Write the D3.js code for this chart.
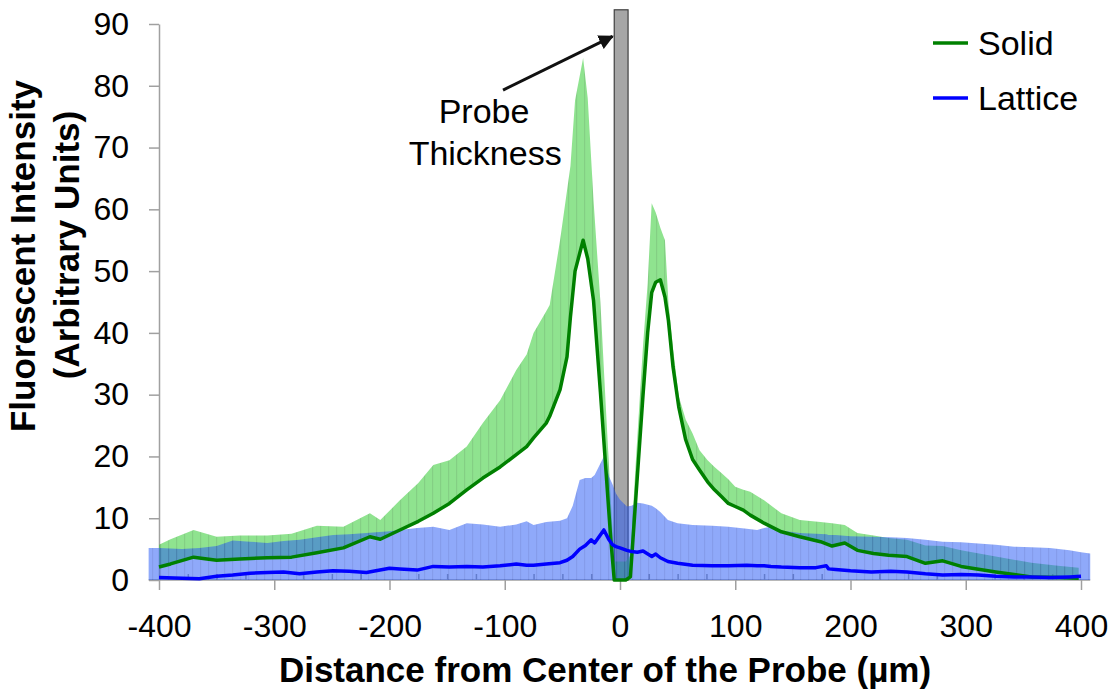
<!DOCTYPE html>
<html>
<head>
<meta charset="utf-8">
<script src="https://cdn.jsdelivr.net/npm/d3@7"></script>
<style>
  body { margin: 0; background: #fff; }
  text { font-family: Arial, "Liberation Sans", sans-serif; }
</style>
</head>
<body>
<svg width="1110" height="694"></svg>
<script>
// Solid probe: mean and mean + SD (upper error)
const solidX = [-400, -390, -370, -350, -330, -306, -285, -263, -240, -217, -208, -191, -175, -162, -148, -133, -119, -104, -90, -81, -75, -64, -61, -52, -46, -43, -39, -32, -28, -23, -17, -12, -8, -5, 0, 5, 9, 14, 20, 24, 27.5, 31, 35, 39, 42, 46, 51, 57, 63, 69, 76, 82, 88, 94, 100, 107, 113, 125, 140, 156, 174, 184, 195, 206, 220, 233, 249, 265, 280, 296, 326, 357, 380, 398];
const solidMean = [2.1, 2.6, 3.7, 3.2, 3.4, 3.6, 3.7, 4.4, 5.2, 7.0, 6.6, 8.1, 9.5, 10.8, 12.4, 14.6, 16.5, 18.3, 20.3, 21.6, 23, 25.4, 26.5, 30.8, 36.1, 42.6, 50, 55, 52, 45.3, 30.4, 17.2, 6.6, 0, 0, 0, 0.5, 14, 30, 40, 46.5, 48.2, 48.6, 45.8, 42, 34.5, 28, 22.7, 19.5, 17.8, 15.9, 14.6, 13.5, 12.4, 11.9, 11.3, 10.5, 9.2, 7.8, 7.0, 6.2, 5.5, 6.0, 4.8, 4.3, 4.0, 3.8, 2.7, 3.1, 2.2, 1.3, 0.5, 0.4, 0.3];
const solidUpper = [5.7, 6.6, 8.1, 7.0, 7.2, 7.2, 7.5, 8.8, 8.6, 10.8, 9.7, 12.9, 15.7, 18.6, 19.4, 21.6, 25.4, 29.1, 34, 36.5, 40, 43.5, 44.5, 55, 63, 67, 77.6, 84.5, 78, 61.5, 45, 27, 13, 3, 3, 3, 4, 20, 38, 48, 61, 59.5, 57, 55, 45, 37.5, 29.7, 26, 23.7, 21, 19.4, 18.3, 17.3, 16.3, 15.1, 14.6, 14.3, 12.9, 10.8, 9.7, 9.4, 9.2, 8.9, 7.6, 7.2, 6.8, 6.5, 5.6, 5.5, 4.8, 3.8, 2.8, 2.3, 2];

// Lattice probe: mean and mean + SD (lower error clipped at 0)
const latticeX = [-409, -400, -380, -365, -350, -336, -321, -306, -292, -278, -263, -249, -235, -220, -200, -191, -176, -162, -148, -133, -119, -104, -90, -81, -75, -64, -52, -46, -41, -35, -30, -25, -22, -14, -9.5, -6.5, -3.5, 0, 6, 10, 15, 20, 27.6, 31, 35, 41.6, 50, 63, 80, 94, 110, 119, 125, 131, 140, 156, 170, 179, 181, 187, 200, 218, 235, 249, 265, 280, 296, 311, 326, 342, 357, 373, 390, 400, 408];
const latticeMean = [0.4, 0.4, 0.3, 0.2, 0.6, 0.8, 1.1, 1.2, 1.3, 1.0, 1.3, 1.5, 1.4, 1.2, 1.9, 1.8, 1.6, 2.2, 2.1, 2.2, 2.1, 2.3, 2.6, 2.4, 2.4, 2.6, 2.8, 3.2, 3.8, 5.0, 5.6, 6.5, 6.0, 8.1, 6.5, 5.7, 5.4, 5.2, 4.8, 4.6, 4.5, 4.7, 3.8, 4.2, 3.6, 3.0, 2.7, 2.4, 2.3, 2.3, 2.4, 2.3, 2.3, 2.2, 2.1, 2.0, 2.0, 2.3, 1.8, 1.7, 1.5, 1.3, 1.4, 1.3, 1.0, 0.8, 0.9, 0.8, 0.6, 0.5, 0.5, 0.4, 0.5, 0.6, 0.6];
const latticeUpper = [5.2, 5.2, 5.0, 5.2, 5.5, 6.4, 6.2, 6.0, 6.3, 6.5, 6.9, 7.3, 7.4, 7.6, 7.9, 8.1, 8.4, 8.6, 8.1, 9.2, 9.0, 8.6, 9.0, 9.5, 8.9, 9.4, 9.6, 10, 12, 16.2, 16.5, 16.5, 17, 20, 16.7, 15.5, 14, 13, 11.9, 12, 12.5, 12.4, 12, 11.6, 11, 9.7, 9.2, 8.9, 8.8, 8.6, 8.3, 8.1, 8.4, 8.6, 8.0, 7.6, 7.5, 7.4, 7.3, 7.3, 7.1, 7.0, 6.9, 6.8, 6.5, 6.2, 6.1, 5.9, 5.7, 5.4, 5.3, 5.2, 4.8, 4.5, 4.3];

const xTicks = [-400, -300, -200, -100, 0, 100, 200, 300, 400];
const yTicks = [0, 10, 20, 30, 40, 50, 60, 70, 80, 90];
const probeEdges = [-5, 7];
const probeTop = 92.3;

const svg = d3.select('svg');

const x = d3.scaleLinear().domain([-400, 400]).range([159, 1081]);
const y = d3.scaleLinear().domain([0, 90]).range([580, 24]);

const defs = svg.append('defs');
function stripes(id, base, line) {
    const p = defs.append('pattern')
        .attr('id', id)
        .attr('patternUnits', 'userSpaceOnUse')
        .attr('width', 8)
        .attr('height', 10);
    p.append('rect').attr('width', 8).attr('height', 10).attr('fill', base);
    p.append('rect').attr('width', 1.2).attr('height', 10).attr('fill', line);
}
stripes('greenStripes', '#33cc33', '#1fa81f');
stripes('blueStripes', '#285af5', '#1440d8');

// axes
const fmt = d => String(d);   // plain hyphen for negatives, like the original

const gx = svg.append('g')
    .attr('transform', `translate(0, ${y(0)})`)
    .call(d3.axisBottom(x).tickValues(xTicks).tickFormat(fmt).tickSize(10).tickPadding(24).tickSizeOuter(0));
gx.select('.domain').attr('d', `M${x(-409)},0H${x(408)}`);

const minor = d3.range(-375, 400, 25).filter(d => d % 100 !== 0);
svg.append('g')
    .attr('transform', `translate(0, ${y(0)})`)
    .call(d3.axisBottom(x).tickValues(minor).tickSize(-6).tickFormat(''))
    .call(g => g.select('.domain').remove());

svg.append('g')
    .attr('transform', `translate(${x(-400)}, 0)`)
    .call(d3.axisLeft(y).tickValues(yTicks).tickFormat(fmt).tickSize(10).tickPadding(20).tickSizeOuter(0));

svg.selectAll('.domain, .tick line').attr('stroke', '#a0a0a0').attr('stroke-width', 1.5);
svg.selectAll('.tick text').attr('font-size', 32).attr('fill', '#000')
    .attr('font-family', 'Arial, "Liberation Sans", sans-serif');

// probe
svg.append('rect')
    .attr('x', x(probeEdges[0]))
    .attr('y', y(probeTop))
    .attr('width', x(probeEdges[1]) - x(probeEdges[0]))
    .attr('height', y(0) - y(probeTop))
    .attr('fill', '#a6a6a6')
    .attr('stroke', '#404040')
    .attr('stroke-width', 1.2);

const solid = solidX.map((d, i) => ({x: d, m: solidMean[i], u: solidUpper[i]}));
const lattice = latticeX.map((d, i) => ({x: d, m: latticeMean[i], u: latticeUpper[i]}));

svg.append('path')
    .datum(solid)
    .attr('d', d3.area().x(d => x(d.x)).y0(d => y(d.m)).y1(d => y(d.u)))
    .attr('fill', 'url(#greenStripes)')
    .attr('opacity', 0.55);

svg.append('path')
    .datum(lattice)
    .attr('d', d3.area().x(d => x(d.x)).y0(y(0)).y1(d => y(d.u)))
    .attr('fill', 'url(#blueStripes)')
    .attr('opacity', 0.52);

const line = d3.line().x(d => x(d.x)).y(d => y(d.m));

svg.append('path')
    .datum(solid)
    .attr('d', line)
    .attr('fill', 'none')
    .attr('stroke', '#008000')
    .attr('stroke-width', 3.5)
    .attr('stroke-linejoin', 'round');

svg.append('path')
    .datum(lattice.filter(d => d.x >= -400 && d.x <= 400))
    .attr('d', line)
    .attr('fill', 'none')
    .attr('stroke', '#0000ff')
    .attr('stroke-width', 3.5)
    .attr('stroke-linejoin', 'round');

// annotation
defs.append('marker')
    .attr('id', 'head')
    .attr('viewBox', '0 0 10 10')
    .attr('refX', 9).attr('refY', 5)
    .attr('markerWidth', 5).attr('markerHeight', 5)
    .attr('orient', 'auto')
    .append('path').attr('d', 'M0,0L10,5L0,10Z').attr('fill', '#111');

svg.append('line')
    .attr('x1', x(-101.5)).attr('y1', y(79.3))
    .attr('x2', x(-6.5)).attr('y2', y(88))
    .attr('stroke', '#111')
    .attr('stroke-width', 3)
    .attr('marker-end', 'url(#head)');

const note = svg.append('g').attr('font-size', 34).attr('text-anchor', 'middle');
note.append('text').attr('x', x(-118)).attr('y', y(74)).text('Probe');
note.append('text').attr('x', x(-117)).attr('y', y(67.2)).text('Thickness');

// legend
const legend = [['Solid', '#008000'], ['Lattice', '#0000ff']];
const lg = svg.append('g').selectAll('g').data(legend).join('g')
    .attr('transform', (d, i) => `translate(933, ${43 + i * 55})`);
lg.append('line').attr('x2', 35).attr('stroke', d => d[1]).attr('stroke-width', 3.5);
lg.append('text').attr('x', 45).attr('y', 12).attr('font-size', 34).text(d => d[0]);

// axis titles
svg.append('text')
    .attr('x', 605).attr('y', 682)
    .attr('text-anchor', 'middle')
    .attr('font-size', 35).attr('font-weight', 'bold')
    .text('Distance from Center of the Probe (µm)');

svg.append('text')
    .attr('transform', 'translate(35, 256) rotate(-90)')
    .attr('text-anchor', 'middle')
    .attr('font-size', 35).attr('font-weight', 'bold')
    .text('Fluorescent Intensity');

svg.append('text')
    .attr('transform', 'translate(79, 245) rotate(-90)')
    .attr('text-anchor', 'middle')
    .attr('font-size', 35).attr('font-weight', 'bold')
    .text('(Arbitrary Units)');
</script>
</body>
</html>
